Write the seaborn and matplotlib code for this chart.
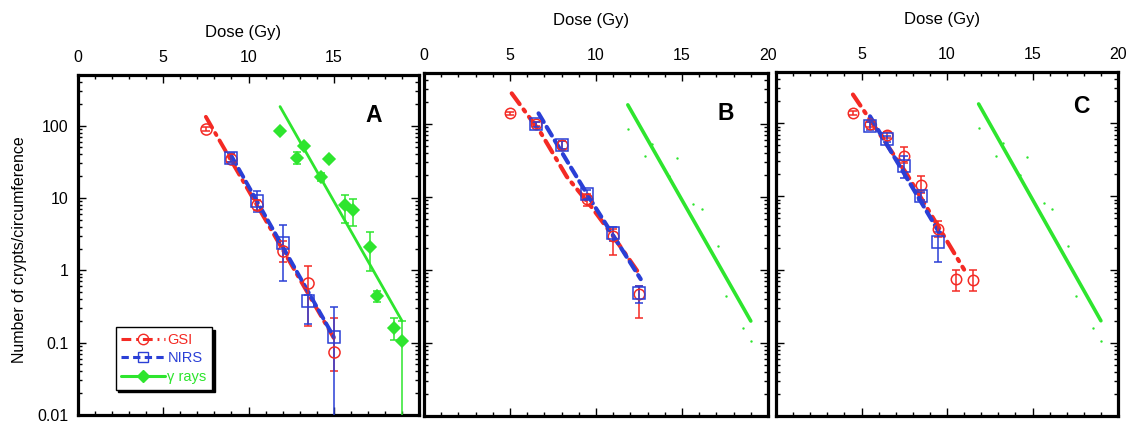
import numpy as np
import matplotlib
matplotlib.use("Agg")
import matplotlib.pyplot as plt
import matplotlib.ticker as mticker
from matplotlib.lines import Line2D
import seaborn as sns

sns.set_style("white")
plt.rcParams["font.family"] = ["Liberation Sans", "DejaVu Sans"]
plt.rcParams["text.color"] = "black"
plt.rcParams["axes.labelcolor"] = "black"
plt.rcParams["xtick.color"] = "black"
plt.rcParams["ytick.color"] = "black"

RED = "#f42a24"
BLUE = "#2a3fd6"
GREEN = "#2ee52e"

# ---------------- data ----------------
# panel A
gsi_a_dose = [7.5, 9.0, 10.5, 12.0, 13.5, 15.0]
gsi_a_val = [90, 35, 8.0, 1.85, 0.67, 0.074]
gsi_a_lo = [84, 31, 6.8, 1.3, 0.17, 0.04]
gsi_a_hi = [97, 40, 9.5, 2.5, 1.15, 0.22]

nirs_a_dose = [9.0, 10.5, 12.0, 13.5, 15.0]
nirs_a_val = [36, 9.0, 2.4, 0.38, 0.12]
nirs_a_lo = [31, 6.4, 0.7, 0.18, 0.005]
nirs_a_hi = [42, 12.4, 4.2, 0.45, 0.31]

gamma_dose = [11.85, 12.85, 13.25, 14.25, 14.7, 15.65, 16.15, 17.1, 17.55, 18.55, 19.0]
gamma_val = [85, 36, 53, 19.5, 34, 8.0, 6.8, 2.1, 0.44, 0.16, 0.105]
gamma_lo = [85, 29, 53, 17, 34, 4.5, 4.1, 0.97, 0.36, 0.11, 0.005]
gamma_hi = [85, 43, 53, 22, 34, 11, 9.7, 3.4, 0.52, 0.22, 0.2]

fit_gsi_a_dose = [7.5, 15.0]
fit_gsi_a_val = [132, 0.116]
fit_nirs_a_dose = [9.0, 15.0]
fit_nirs_a_val = [38, 0.12]
fit_gamma_dose = [11.85, 19.0]
fit_gamma_val = [183, 0.2]

# panel B
gsi_b_dose = [5.0, 6.5, 8.0, 9.5, 11.0, 12.5]
gsi_b_val = [140, 100, 52, 9.5, 2.9, 0.47]
gsi_b_lo = [133, 93, 46, 7.5, 1.6, 0.22]
gsi_b_hi = [147, 108, 58, 11, 3.6, 0.6]

nirs_b_dose = [6.5, 8.0, 9.5, 11.0, 12.5]
nirs_b_val = [100, 52, 11, 3.2, 0.48]
nirs_b_lo = [92, 45, 9.5, 2.5, 0.35]
nirs_b_hi = [108, 58, 12.5, 3.9, 0.6]

fit_gsi_b_dose = [5.1, 6.8, 8.3, 9.7, 11.0, 12.6]
fit_gsi_b_val = [263, 75, 19, 7.5, 2.9, 0.83]
fit_nirs_b_dose = [6.66, 8.32, 9.68, 12.6]
fit_nirs_b_val = [140, 31, 9.2, 0.75]

# panel C
gsi_c_dose = [4.5, 5.5, 6.5, 7.5, 8.5, 9.5, 10.5, 11.5]
gsi_c_val = [138, 97, 69, 36, 14.5, 3.6, 0.75, 0.72]
gsi_c_lo = [131, 90, 62, 29, 11, 2.8, 0.51, 0.51]
gsi_c_hi = [145, 104, 76, 48, 19, 4.6, 1.0, 0.98]

nirs_c_dose = [5.5, 6.5, 7.5, 8.5, 9.5]
nirs_c_val = [92, 60, 26, 10, 2.4]
nirs_c_lo = [80, 55, 18, 9, 1.26]
nirs_c_hi = [105, 66, 36, 11.5, 3.3]

fit_gsi_c_dose = [4.5, 7.6, 11.0]
fit_gsi_c_val = [246, 21, 1.0]
fit_nirs_c_dose = [5.5, 9.55]
fit_nirs_c_val = [124, 3.2]

DASHDOT = (0, (3.2, 1.6, 0.6, 1.6))
DASHED = (0, (2.4, 1.4))


def draw_points(ax, dose, val, lo, hi, color, marker, ms, filled=False):
    val = np.array(val)
    err = [val - np.array(lo), np.array(hi) - val]
    ax.errorbar(dose, val, yerr=err, fmt="none", ecolor=color, elinewidth=1.1,
                capsize=3, capthick=1.1, zorder=4)
    ax.plot(dose, val, linestyle="none", marker=marker, ms=ms,
            mfc=color if filled else "none", mec=color, mew=1.1, zorder=5)


def draw_fit(ax, dose, val, color, ls, lw):
    sns.lineplot(x=dose, y=val, ax=ax, color=color, linestyle=ls, lw=lw,
                 dash_capstyle="round", zorder=3)


def style_axes(ax, xlabels, ylabels, xlab_y):
    ax.set_yscale("log")
    ax.set_xlim(0, 20)
    ax.set_ylim(0.01, 500)
    ax.set_xticks([0, 5, 10, 15, 20], labels=xlabels)
    ax.xaxis.set_minor_locator(mticker.MultipleLocator(1))
    ax.set_yticks([0.01, 0.1, 1, 10, 100], labels=ylabels)
    ax.yaxis.set_minor_locator(mticker.LogLocator(base=10, subs=np.arange(2, 10), numticks=20))
    ax.yaxis.set_minor_formatter(mticker.NullFormatter())
    ax.tick_params(which="both", direction="in", top=True, bottom=True, left=True,
                   right=True, labeltop=True, labelbottom=False, width=1,
                   labelsize=11.5, pad=7, colors="black")
    ax.tick_params(which="major", length=6)
    ax.tick_params(which="minor", length=3)
    for s in ax.spines.values():
        s.set_linewidth(2.3)
        s.set_color("black")
    ax.set_xlabel("Dose (Gy)", fontsize=12, color="black")
    ax.xaxis.set_label_position("top")
    ax.xaxis.label.set_va("center")
    ax.xaxis.set_label_coords(0.485, xlab_y)
    ax.set_ylabel("")


W, H = 1133, 426
fig = plt.figure(figsize=(W / 100, H / 100), dpi=100)
ax_a = fig.add_axes([78 / W, 11 / H, 341 / W, 340 / H])
ax_b = fig.add_axes([424 / W, 10 / H, 344 / W, 343 / H])
ax_c = fig.add_axes([776 / W, 10 / H, 342 / W, 344 / H])

ylab = ["0.01", "0.1", "1", "10", "100"]
noy = [""] * 5

# ---- A ----
ax = ax_a
ax.set_yscale("log")
draw_fit(ax, fit_gamma_dose, fit_gamma_val, GREEN, "-", 2.0)
draw_fit(ax, fit_gsi_a_dose, fit_gsi_a_val, RED, DASHDOT, 2.8)
draw_fit(ax, fit_nirs_a_dose, fit_nirs_a_val, BLUE, DASHED, 2.8)
draw_points(ax, gsi_a_dose, gsi_a_val, gsi_a_lo, gsi_a_hi, RED, "o", 8)
draw_points(ax, nirs_a_dose, nirs_a_val, nirs_a_lo, nirs_a_hi, BLUE, "s", 9)
draw_points(ax, gamma_dose, gamma_val, gamma_lo, gamma_hi, GREEN, "D", 6.5, filled=True)
style_axes(ax, ["0", "5", "10", "15", ""], ylab, 1.125)
ax.text(0.868, 0.882, "A", transform=ax.transAxes, fontsize=16.5, fontweight="bold",
        ha="center", va="center", color="black")

handles = [
    Line2D([], [], color=RED, ls=DASHDOT, lw=2.2, marker="o", ms=7.5, mfc="none", mec=RED),
    Line2D([], [], color=BLUE, ls=DASHED, lw=2.2, marker="s", ms=7.5, mfc="none", mec=BLUE),
    Line2D([], [], color=GREEN, ls="-", lw=2.2, marker="D", ms=6.5, mfc=GREEN, mec=GREEN),
]
leg = ax.legend(handles, ["GSI", "NIRS", "\u03b3 rays"], loc="lower left",
                bbox_to_anchor=(0.11, 0.075), fontsize=10.5, frameon=True, fancybox=False,
                shadow={"color": "black", "alpha": 1.0}, handlelength=3.0,
                handletextpad=0.15, labelspacing=0.3, borderpad=0.4, borderaxespad=0.0)
leg.get_frame().set_edgecolor("black")
leg.get_frame().set_linewidth(1.0)
for t, c in zip(leg.get_texts(), [RED, BLUE, GREEN]):
    t.set_color(c)

# ---- B ----
ax = ax_b
ax.set_yscale("log")
draw_fit(ax, fit_gamma_dose, fit_gamma_val, GREEN, "-", 2.6)
sns.scatterplot(x=gamma_dose, y=gamma_val, ax=ax, color=GREEN, s=3, linewidth=0, zorder=2)
draw_fit(ax, fit_gsi_b_dose, fit_gsi_b_val, RED, DASHDOT, 3.0)
draw_fit(ax, fit_nirs_b_dose, fit_nirs_b_val, BLUE, DASHED, 3.0)
draw_points(ax, gsi_b_dose, gsi_b_val, gsi_b_lo, gsi_b_hi, RED, "o", 7.5)
draw_points(ax, nirs_b_dose, nirs_b_val, nirs_b_lo, nirs_b_hi, BLUE, "s", 8)
style_axes(ax, ["0", "5", "10", "15", "20"], noy, 1.152)
ax.text(0.878, 0.883, "B", transform=ax.transAxes, fontsize=16.5, fontweight="bold",
        ha="center", va="center", color="black")

# ---- C ----
ax = ax_c
ax.set_yscale("log")
draw_fit(ax, fit_gamma_dose, fit_gamma_val, GREEN, "-", 2.6)
sns.scatterplot(x=gamma_dose, y=gamma_val, ax=ax, color=GREEN, s=3, linewidth=0, zorder=2)
draw_fit(ax, fit_gsi_c_dose, fit_gsi_c_val, RED, DASHDOT, 3.0)
draw_fit(ax, fit_nirs_c_dose, fit_nirs_c_val, BLUE, DASHED, 3.0)
draw_points(ax, gsi_c_dose, gsi_c_val, gsi_c_lo, gsi_c_hi, RED, "o", 7.5)
draw_points(ax, nirs_c_dose, nirs_c_val, nirs_c_lo, nirs_c_hi, BLUE, "s", 8)
style_axes(ax, ["", "5", "10", "15", "20"], noy, 1.152)
ax.text(0.894, 0.9, "C", transform=ax.transAxes, fontsize=16.5, fontweight="bold",
        ha="center", va="center", color="black")

fig.text(20 / W, 1 - 250 / H, "Number of crypts/circumference", rotation=90,
         ha="center", va="center", fontsize=11.5, color="black")

fig.savefig("out.png", dpi=100)
